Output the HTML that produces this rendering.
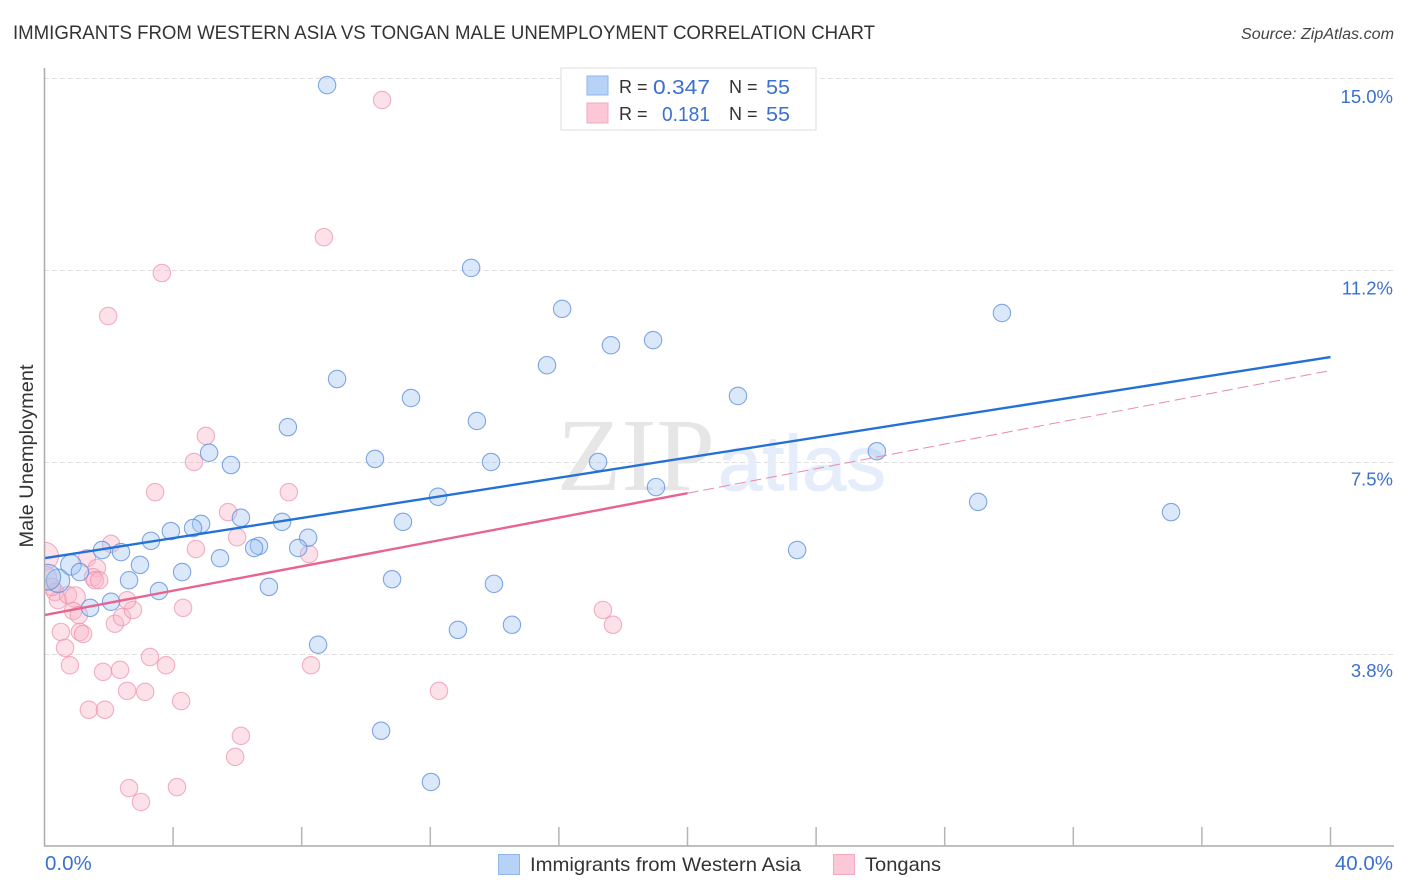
<!DOCTYPE html>
<html lang="en">
<head>
<meta charset="utf-8">
<title>Immigrants from Western Asia vs Tongan Male Unemployment Correlation Chart</title>
<style>
html,body{margin:0;padding:0;background:#fff;}
svg{display:block;font-family:"Liberation Sans",sans-serif;}
</style>
</head>
<body>
<svg id="chart" xmlns="http://www.w3.org/2000/svg" width="1406" height="892" viewBox="0 0 1406 892">
  <defs>
    <clipPath id="plot-clip"><rect x="44.500" y="60" width="1350" height="786"/></clipPath>
  </defs>
  <rect x="0" y="0" width="1406" height="892" fill="#ffffff"/>
  <text x="13" y="39" font-size="19" fill="#333333" textLength="862" lengthAdjust="spacingAndGlyphs">IMMIGRANTS FROM WESTERN ASIA VS TONGAN MALE UNEMPLOYMENT CORRELATION CHART</text>
  <text x="1394" y="39" font-size="15.5" font-style="italic" fill="#444444" text-anchor="end" textLength="153" lengthAdjust="spacingAndGlyphs">Source: ZipAtlas.com</text>

  <g id="grid"></g>

  <text x="557" y="490" font-family="'Liberation Serif',serif" font-size="104" fill="#e6e6e6" textLength="158" lengthAdjust="spacingAndGlyphs">ZIP</text>
  <text x="718" y="490" font-family="'Liberation Sans',sans-serif" font-size="78" fill="#e5edfa" stroke="#e5edfa" stroke-width="1" textLength="168" lengthAdjust="spacingAndGlyphs">atlas</text>

  <g clip-path="url(#plot-clip)">
    <g id="pink-points"></g>
    <g id="blue-points"></g>
  </g>
  <g id="trends"></g>

  <line x1="44.500" y1="68" x2="44.500" y2="846" stroke="#aaaaaa" stroke-width="1.5"/>
  <line x1="44" y1="846" x2="1394" y2="846" stroke="#aaaaaa" stroke-width="1.5"/>
  <g id="x-ticks"></g>
  <g id="y-labels"></g>
  <g id="x-labels"></g>

  <text transform="translate(33,456) rotate(-90)" font-size="19" fill="#333333" text-anchor="middle" textLength="183" lengthAdjust="spacingAndGlyphs">Male Unemployment</text>

  <g>
    <rect x="561" y="68" width="255" height="62" fill="#ffffff" stroke="#dddddd" stroke-width="1"/>
    <rect x="587" y="76" width="21" height="19" fill="#b7d2f7" stroke="#8fb6ea" stroke-width="1"/>
    <rect x="587" y="103" width="21" height="20" fill="#fcc8d8" stroke="#f3a9c0" stroke-width="1"/>
    <g font-size="20.5">
      <text x="619" y="93" font-size="18" fill="#333333">R =</text>
      <text x="653" y="94" fill="#3a70cf" textLength="57" lengthAdjust="spacingAndGlyphs">0.347</text>
      <text x="729" y="93" font-size="18" fill="#333333">N =</text>
      <text x="766" y="94" fill="#3a70cf" textLength="24" lengthAdjust="spacingAndGlyphs">55</text>
      <text x="619" y="120" font-size="18" fill="#333333">R =</text>
      <text x="662" y="121" fill="#3a70cf" textLength="48" lengthAdjust="spacingAndGlyphs">0.181</text>
      <text x="729" y="120" font-size="18" fill="#333333">N =</text>
      <text x="766" y="121" fill="#3a70cf" textLength="24" lengthAdjust="spacingAndGlyphs">55</text>
    </g>
  </g>

  <g>
    <rect x="498.500" y="854.500" width="21" height="20" fill="#b7d2f7" stroke="#8fb6ea" stroke-width="1"/>
    <text x="530" y="871" font-size="19.500" fill="#333333" textLength="271" lengthAdjust="spacingAndGlyphs">Immigrants from Western Asia</text>
    <rect x="833.500" y="854.500" width="21" height="20" fill="#fcc8d8" stroke="#f3a9c0" stroke-width="1"/>
    <text x="865" y="871" font-size="19.500" fill="#333333" textLength="76" lengthAdjust="spacingAndGlyphs">Tongans</text>
  </g>
</svg>
<script>
const xTickValues = [4, 8, 12, 16, 20, 24, 28, 32, 36, 40];
const yGridValues = [3.75, 7.5, 11.25, 15];
const yTickLabels = ["3.8%", "7.5%", "11.2%", "15.0%"];
const xEndValues = [0, 40];
const xEndLabels = ["0.0%", "40.0%"];

const blueX = [8.79, 13.27, 16.10, 29.78, 17.62, 18.93, 15.63, 9.10, 21.57, 11.40, 13.45, 7.57, 5.12, 5.80, 10.28, 13.89, 17.22, 25.89, 19.02, 12.24, 29.04, 35.04, 11.15, 6.11, 7.39, 4.87, 4.62, 3.93, 3.31, 8.20, 6.67, 6.52, 7.89, 2.38, 1.79, 23.41, 5.46, 2.97, 0.82, 4.28, 1.10, 2.63, 10.81, 13.98, 6.98, 3.56, 2.07, 1.42, 12.86, 14.54, 8.51, 10.47, 12.02, 0.42, 0.10];
const blueY = [14.88, 11.31, 10.51, 10.43, 9.80, 9.90, 9.41, 9.14, 8.81, 8.77, 8.32, 8.20, 7.70, 7.46, 7.58, 7.52, 7.52, 7.73, 7.03, 6.84, 6.74, 6.54, 6.35, 6.43, 6.35, 6.31, 6.23, 6.17, 5.98, 6.04, 5.88, 5.84, 5.84, 5.76, 5.80, 5.80, 5.64, 5.51, 5.51, 5.37, 5.37, 5.21, 5.23, 5.14, 5.08, 5.00, 4.79, 4.67, 4.24, 4.34, 3.95, 2.27, 1.27, 5.20, 5.27];
const blueWeight = [1, 1, 1, 1, 1, 1, 1, 1, 1, 1, 1, 1, 1, 1, 1, 1, 1, 1, 1, 1, 1, 1, 1, 1, 1, 1, 1, 1, 1, 1, 1, 1, 1, 1, 1, 1, 1, 1, 1.4, 1, 1, 1, 1, 1, 1, 1, 1, 1, 1, 1, 1, 1, 1, 1.8, 2.2];

const pinkX = [10.50, 8.69, 3.65, 1.98, 5.02, 4.65, 3.44, 7.60, 5.71, 5.99, 2.07, 4.71, 8.23, 1.32, 0, 1.63, 1.51, 1.57, 1.70, 0, 0.33, 0.42, 0.73, 0.95, 0.89, 1.07, 0.51, 1.10, 1.20, 0.64, 0.79, 2.19, 2.41, 2.75, 2.57, 4.31, 1.82, 2.35, 3.28, 3.78, 8.29, 2.57, 3.13, 4.25, 1.38, 1.88, 17.37, 17.68, 12.27, 6.11, 5.93, 2.63, 4.12, 3.00, 0.23];
const pinkY = [14.59, 11.91, 11.21, 10.37, 8.03, 7.52, 6.93, 6.93, 6.54, 6.05, 5.92, 5.82, 5.72, 5.64, 5.68, 5.45, 5.27, 5.21, 5.21, 5.25, 4.98, 4.82, 4.92, 4.88, 4.61, 4.53, 4.20, 4.20, 4.16, 3.89, 3.55, 4.36, 4.49, 4.63, 4.82, 4.67, 3.42, 3.46, 3.71, 3.55, 3.55, 3.05, 3.03, 2.85, 2.68, 2.68, 4.63, 4.34, 3.05, 2.17, 1.76, 1.15, 1.17, 0.88, 5.08];
const pinkWeight = [1, 1, 1, 1, 1, 1, 1, 1, 1, 1, 1, 1, 1, 1, 2.6, 1, 1, 1, 1, 2, 1, 1, 1, 1.4, 1, 1, 1, 1, 1, 1, 1, 1, 1, 1, 1, 1, 1, 1, 1, 1, 1, 1, 1, 1, 1, 1, 1, 1, 1, 1, 1, 1, 1, 1, 1];

const blueTrendX = [0, 40];
const blueTrendY = [5.64, 9.57];
const pinkSolidX = [0, 20];
const pinkSolidY = [4.53, 6.91];
const pinkDashX = [20, 39.95];
const pinkDashY = [6.91, 9.30];

const SVGNS = "http://www.w3.org/2000/svg";
function xScale(v) { return 44.5 + v * 32.15; }
function yScale(v) { return 655 - (v - 3.75) * 51.2; }
function yLabelScale(v) { return 103 + (15 - v) * 51; }
function rScale(w) { return 8.7 * Math.sqrt(w); }
function make(parentId, tag, attrs) {
  const el = document.createElementNS(SVGNS, tag);
  for (const k in attrs) el.setAttribute(k, attrs[k]);
  document.getElementById(parentId).appendChild(el);
  return el;
}

yGridValues.forEach(function (v, i) {
  const g = make("grid", "line", { x1: 44, x2: 1394, y1: yScale(v) - 0.5, y2: yScale(v) - 0.5, stroke: "#dedede", "stroke-width": 1, "stroke-dasharray": "5 3" });
  
  
  const t = make("y-labels", "text", { x: 1393, y: yLabelScale(v), "font-size": 18.5, fill: "#3a70cf", "text-anchor": "end" });
  t.textContent = yTickLabels[i];
  
  
});

xTickValues.forEach(function (v) {
  const l = make("x-ticks", "line", { x1: xScale(v), x2: xScale(v), y1: 827, y2: 846, stroke: "#b5b5b5", "stroke-width": 1.5 });
  
  
});

xEndValues.forEach(function (v, i) {
  const t = make("x-labels", "text", { x: i === 0 ? 45 : 1393, y: 870, "font-size": 20.5, fill: "#3a70cf", "text-anchor": i === 0 ? "start" : "end" });
  t.textContent = xEndLabels[i];
  
  
});

pinkX.forEach(function (v, i) {
  const c = make("pink-points", "circle", { cx: xScale(v), cy: yScale(pinkY[i]), r: rScale(pinkWeight[i]), fill: "#f9b4c9", "fill-opacity": 0.4, stroke: "#ec8fae", "stroke-opacity": 0.7, "stroke-width": 1.1 });
  
  
});

blueX.forEach(function (v, i) {
  const c = make("blue-points", "circle", { cx: xScale(v), cy: yScale(blueY[i]), r: rScale(blueWeight[i]), fill: "#a3c6f3", "fill-opacity": 0.4, stroke: "#5c90de", "stroke-opacity": 0.78, "stroke-width": 1.1 });
  
  
});

const dashLine = make("trends", "line", { x1: xScale(pinkDashX[0]), y1: yScale(pinkDashY[0]), x2: xScale(pinkDashX[1]), y2: yScale(pinkDashY[1]), stroke: "#e88aab", "stroke-width": 1, "stroke-dasharray": "11 5" });



const pinkLine = make("trends", "line", { x1: xScale(pinkSolidX[0]), y1: yScale(pinkSolidY[0]), x2: xScale(pinkSolidX[1]), y2: yScale(pinkSolidY[1]), stroke: "#e8648f", "stroke-width": 2.4 });



const blueLine = make("trends", "line", { x1: xScale(blueTrendX[0]), y1: yScale(blueTrendY[0]), x2: xScale(blueTrendX[1]), y2: yScale(blueTrendY[1]), stroke: "#2470d6", "stroke-width": 2.4 });


</script>
</body>
</html>
